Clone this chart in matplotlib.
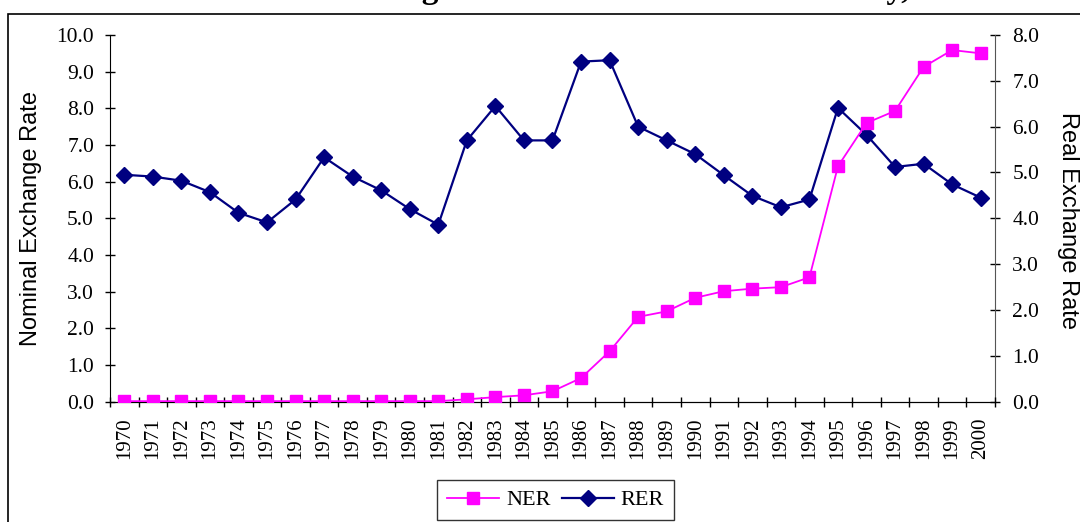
import matplotlib.pyplot as plt
from matplotlib.patches import Rectangle
from matplotlib.ticker import FixedLocator, FormatStrFormatter

# Datos (tipo de cambio nominal y real, 1970-2000)
years = [str(y) for y in range(1970, 2001)]
ner = [0.01, 0.01, 0.01, 0.01, 0.01, 0.01, 0.01, 0.01, 0.01, 0.01, 0.01, 0.01,
       0.06, 0.12, 0.17, 0.28, 0.64, 1.37, 2.31, 2.46, 2.83, 3.01, 3.08, 3.12,
       3.39, 6.42, 7.60, 7.93, 9.13, 9.59, 9.50]
rer = [4.95, 4.91, 4.82, 4.57, 4.12, 3.91, 4.41, 5.33, 4.91, 4.61, 4.20, 3.86,
       5.70, 6.45, 5.70, 5.70, 7.42, 7.45, 6.00, 5.70, 5.40, 4.94, 4.49, 4.24,
       4.41, 6.41, 5.82, 5.12, 5.19, 4.74, 4.45]

serif = 'Liberation Serif'
sans = 'Liberation Sans'

fig = plt.figure(figsize=(10.8, 5.22), dpi=100)
ax = fig.add_axes([0.10185, 0.2308, 0.81944, 0.7021])
ax2 = ax.twinx()

x = list(range(len(years)))
l1, = ax.plot(x, ner, color='#FF00FF', lw=1.3, marker='s', ms=8.5, label='NER', zorder=3)
l2, = ax2.plot(x, rer, color='#000080', lw=1.6, marker='D', ms=8, label='RER', zorder=3)

ax.set_xlim(-0.5, len(years) - 0.5)
ax.set_ylim(0, 10)
ax2.set_ylim(0, 8)
ax.set_yticks(range(0, 11))
ax2.set_yticks(range(0, 9))
ax.yaxis.set_major_formatter(FormatStrFormatter('%.1f'))
ax2.yaxis.set_major_formatter(FormatStrFormatter('%.1f'))

# Etiquetas de años en el centro, marcas entre categorías
ax.set_xticks(x)
ax.set_xticklabels(years, rotation=90, fontfamily=serif, fontsize=15)
ax.xaxis.set_minor_locator(FixedLocator([i - 0.5 for i in range(len(years) + 1)]))
ax.tick_params(axis='x', which='major', length=0, pad=11.5)
ax.tick_params(axis='x', which='minor', direction='inout', length=7, width=1)
ax.tick_params(axis='y', direction='inout', length=7, width=1, labelsize=15.5, pad=8)
ax2.tick_params(axis='y', direction='inout', length=7, width=1, labelsize=15.5, pad=9)
for lab in ax.get_yticklabels() + ax2.get_yticklabels():
    lab.set_fontfamily(serif)

for a in (ax, ax2):
    a.spines['top'].set_visible(False)
ax.spines['right'].set_visible(False)
ax2.spines['left'].set_visible(False)
ax2.spines['right'].set_color('#555555')

ax.set_ylabel('Nominal Exchange Rate', fontfamily=sans, fontsize=17)
ax.yaxis.set_label_coords(-0.0768, 0.5)
ax2.set_ylabel('Real Exchange Rate', fontfamily=sans, fontsize=17, rotation=-90, va='bottom')
ax2.yaxis.set_label_coords(1.0701, 0.495)

ax.set_zorder(ax2.get_zorder() + 1)
ax.patch.set_visible(False)

leg = ax.legend([l1, l2], ['NER', 'RER'], loc='center', bbox_to_anchor=(0.5034, -0.269),
                ncol=2, frameon=True, fancybox=False, edgecolor='black',
                prop={'family': serif, 'size': 16}, handlelength=2.35,
                columnspacing=0.5, handletextpad=0.3, borderpad=0.45)
leg.get_frame().set_linewidth(1)

# Marco exterior del gráfico
fig.patches.append(Rectangle((8 / 1080, -0.1), 1.2, 1 - 14 / 522 + 0.1,
                             transform=fig.transFigure, fill=False,
                             edgecolor='black', lw=1.2))

# Título (cortado en la parte superior)
fig.text(0.514, 1.003, 'Nominal and Real Exchange Rates in the Mexican Economy, 1970-2000',
         ha='center', va='baseline', fontfamily=serif, fontweight='bold', fontsize=24)

fig.savefig('out.png', dpi=100)
